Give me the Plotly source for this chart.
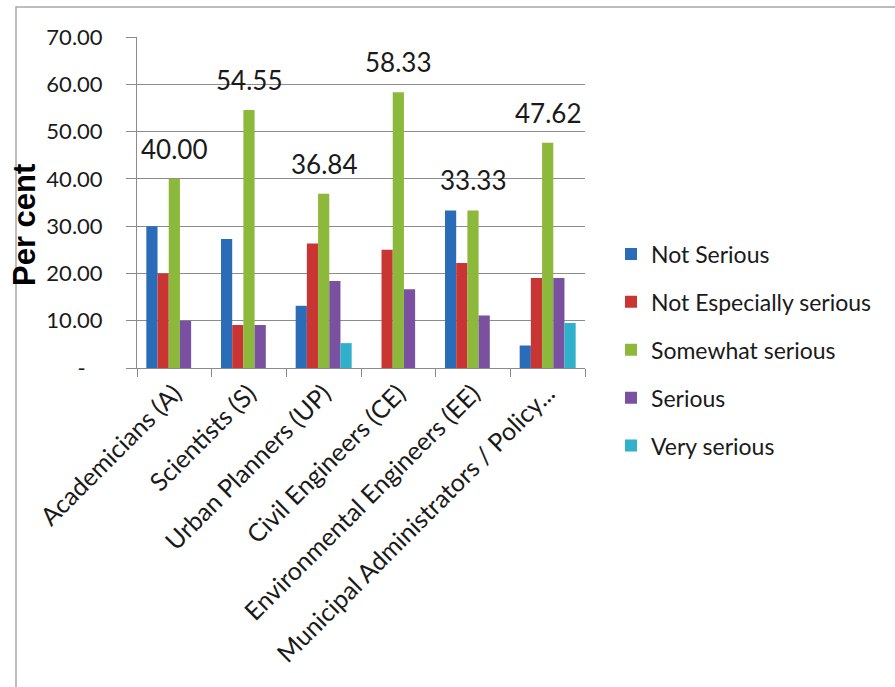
import plotly.graph_objects as go

# Respondent groups on the category axis
groups = [
    "Academicians (A)",
    "Scientists (S)",
    "Urban Planners (UP)",
    "Civil Engineers (CE)",
    "Environmental Engineers (EE)",
    "Municipal Administrators / Policy...",
]

# Share of respondents (per cent) for each seriousness rating
not_serious = [30.00, 27.27, 13.16, 0.00, 33.33, 4.76]
not_especially_serious = [20.00, 9.09, 26.32, 25.00, 22.22, 19.05]
somewhat_serious = [40.00, 54.55, 36.84, 58.33, 33.33, 47.62]
serious = [10.00, 9.09, 18.42, 16.67, 11.11, 19.05]
very_serious = [0.00, 0.00, 5.26, 0.00, 0.00, 9.52]

series_names = ["Not Serious", "Not Especially serious", "Somewhat serious",
                "Serious", "Very serious"]
series_values = [not_serious, not_especially_serious, somewhat_serious,
                 serious, very_serious]
series_colors = ["#2b6cb8", "#c83532", "#8cb83b", "#7a51a1", "#30b0cb"]

y_tick_vals = [0, 10, 20, 30, 40, 50, 60, 70]
y_tick_text = ["-\u00a0\u00a0\u00a0", "10.00", "20.00", "30.00", "40.00",
               "50.00", "60.00", "70.00"]

FONT = "Lato"
TEXT = "#1a1a1a"

W, H = 895, 687
ML, MR, MT, MB = 137, 310, 37, 319
PW, PH = W - ML - MR, H - MT - MB

fig = go.Figure()
for i, (name, vals, col) in enumerate(zip(series_names, series_values, series_colors)):
    fig.add_trace(go.Bar(
        x=groups, y=vals, name=name,
        legendgroup=f"g{i}",
        marker=dict(color=col, line=dict(width=0)),
    ))

# value labels above the "Somewhat serious" bars (middle bar of each group)
annotations = []
for g, v in zip(groups, somewhat_serious):
    annotations.append(dict(
        x=g, y=v, xref="x", yref="y", text=f"{v:.2f}", showarrow=False,
        yanchor="bottom", yshift=12,
        font=dict(family=FONT, size=26, color=TEXT),
    ))

# y-axis title
annotations.append(dict(
    x=(25 - ML) / PW, y=(MT + PH - 225) / PH, xref="paper", yref="paper",
    text="<b>Per cent</b>", textangle=-90, showarrow=False,
    xanchor="center", yanchor="middle",
    font=dict(family="Liberation Sans, Arial", size=31, color="#000000"),
))

# chart frame
shapes = [dict(
    type="rect", xref="paper", yref="paper",
    x0=(16 - ML) / PW, x1=(W + 20 - ML) / PW,
    y0=(MT + PH - (H + 20)) / PH, y1=(MT + PH - 7) / PH,
    line=dict(color="#a8a8a8", width=1.5), fillcolor="rgba(0,0,0,0)",
    layer="below",
)]

fig.update_layout(
    width=W, height=H,
    margin=dict(l=ML, r=MR, t=MT, b=MB, pad=0, autoexpand=False),
    paper_bgcolor="white", plot_bgcolor="white",
    barmode="group", bargap=0.25, bargroupgap=0,
    font=dict(family=FONT, size=22, color=TEXT),
    showlegend=True,
    legend=dict(
        x=(611 - ML) / PW, xanchor="left",
        y=(MT + PH - 350) / PH, yanchor="middle",
        font=dict(family=FONT, size=23, color=TEXT),
        tracegroupgap=15, bgcolor="rgba(0,0,0,0)",
        traceorder="grouped",
    ),
    annotations=annotations,
    shapes=shapes,
)

fig.update_xaxes(
    type="category", tickangle=-45, automargin=False,
    showline=True, linecolor="#8c8c8c", linewidth=1,
    ticks="outside", tickson="boundaries", ticklen=8, tickcolor="#8c8c8c",
    showgrid=False,
    tickfont=dict(family=FONT, size=25, color=TEXT),
)
fig.update_yaxes(
    range=[0, 70], tickvals=y_tick_vals, ticktext=y_tick_text,
    automargin=False,
    showline=True, linecolor="#8c8c8c", linewidth=1,
    ticks="outside", ticklen=10, tickcolor="#8c8c8c",
    showgrid=True, gridcolor="#8c8c8c", gridwidth=1,
    zeroline=False,
    ticklabelstandoff=19,
    tickfont=dict(family=FONT, size=22, color=TEXT),
)

fig.write_html("out.html")
